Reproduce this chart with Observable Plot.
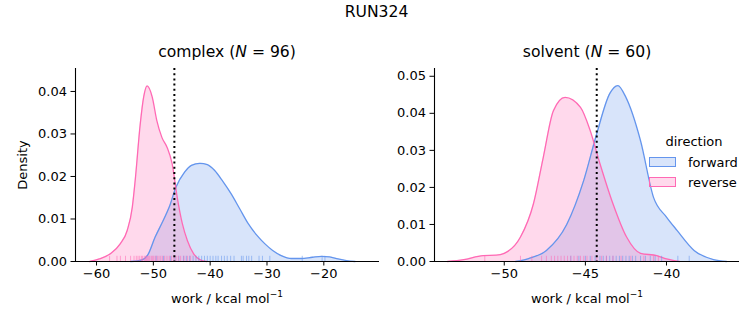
<!DOCTYPE html>
<html>
<head>
<meta charset="utf-8">
<script src="https://cdn.jsdelivr.net/npm/d3@7"></script>
<script src="https://cdn.jsdelivr.net/npm/@observablehq/plot@0.6"></script>
<style>
  html, body { margin: 0; padding: 0; background: #fff; }
  #wrap { position: relative; width: 753px; height: 325px; font-family: "DejaVu Sans", sans-serif; color: #000; overflow: hidden; }
  #wrap svg text { font-family: "DejaVu Sans", sans-serif !important; font-size: 13px !important; fill: #000; }
  .abs { position: absolute; white-space: nowrap; }
  .plot { position: absolute; top: 0; }
  .ctr { transform: translateX(-50%); }
  .sw { position: absolute; width: 25px; height: 8px; border: 1px solid; }
</style>
</head>
<body>
<div id="wrap"></div>
<script>
// ---- data ----
const directions = ["forward", "reverse"];
const colors = ["#6495ED", "#FF69B4"];
const panelTitles = ["complex", "solvent"];
const panelN = [96, 60];
const meanLines = [-46.3, -44.3];

// KDE curves (x, density)
const complexFwdX = [-54, -52, -51, -49.7, -48.5, -47.2, -46.0, -44.5, -43.3, -41.8, -40.5, -39.2, -37.8, -36.3, -34.8, -33.3, -31.8, -30.4, -29, -27.5, -25.7, -24, -22, -20.4, -19, -17.5, -16, -14.5];
const complexFwdY = [0, 0.0004, 0.0015, 0.0057, 0.009, 0.0128, 0.0175, 0.021, 0.0226, 0.0231, 0.0228, 0.0214, 0.0189, 0.0159, 0.0124, 0.0089, 0.0062, 0.0042, 0.0026, 0.0014, 0.0007, 0.0007, 0.001, 0.0012, 0.0011, 0.0006, 0.0002, 0];
const complexRevX = [-61.2, -59.5, -57.5, -55.8, -54.6, -53.7, -53.2, -52.3, -51.7, -51.1, -50.2, -49.4, -48.5, -47.6, -46.7, -45.8, -44.9, -44.0, -42.9, -41.75, -40.6];
const complexRevY = [0, 0.0006, 0.0019, 0.0042, 0.0073, 0.0128, 0.019, 0.0324, 0.0387, 0.0413, 0.0387, 0.0332, 0.0292, 0.0269, 0.023, 0.0151, 0.0089, 0.0049, 0.0018, 0.0004, 0];
const solventFwdX = [-49.3, -48.5, -47.4, -46.15, -45.1, -44.3, -43.5, -43.0, -42.5, -41.6, -40.8, -40.0, -39.35, -38.3, -37.1, -36.3];
const solventFwdY = [0, 0.0008, 0.003, 0.010, 0.0219, 0.0345, 0.0453, 0.0475, 0.0443, 0.0326, 0.0173, 0.012, 0.0084, 0.003, 0.0005, 0];
const solventRevX = [-53.5, -52.5, -51.3, -50.5, -50.0, -49.0, -48.2, -47.6, -46.97, -46.25, -45.3, -44.7, -44.1, -43.3, -42.46, -41.6, -40.6, -40.0, -39.2];
const solventRevY = [0, 0.0005, 0.0016, 0.0017, 0.0022, 0.0066, 0.0156, 0.028, 0.0407, 0.0443, 0.0416, 0.0353, 0.0264, 0.0156, 0.0066, 0.0022, 0.0016, 0.0007, 0];

// rug samples (work values)
const complexFwdRug = [-49.5, -48.2, -47.0, -46.2, -45.5, -44.7, -44.2, -43.6, -43.0, -42.5, -42.0, -41.5, -41.0, -40.5, -40.0, -39.5, -39.0, -38.6, -38.0, -37.5, -37.0, -36.4, -35.8, -34.5, -34.2, -33.6, -33.2, -32.7, -31.4, -30.8, -29.5, -23.8, -20.3, -19.8];
const complexRevRug = [-57.7, -56.4, -55.8, -54.9, -54.0, -53.4, -53.0, -52.7, -52.4, -52.1, -51.9, -51.6, -51.4, -51.2, -51.0, -50.8, -50.6, -50.3, -50.1, -49.9, -49.6, -49.3, -49.0, -48.7, -48.4, -48.0, -47.6, -47.2, -46.8, -46.4, -46.0, -45.6, -45.2, -44.6, -44.0, -43.5];
const solventFwdRug = [-45.9, -45.4, -45.0, -44.7, -44.4, -44.1, -43.9, -43.7, -43.5, -43.3, -43.1, -42.9, -42.7, -42.5, -42.3, -42.1, -41.9, -41.6, -41.3, -41.0, -40.7, -40.3, -39.3, -38.6];
const solventRevRug = [-51.2, -49.0, -48.3, -47.7, -47.4, -47.1, -46.9, -46.7, -46.5, -46.3, -46.1, -45.9, -45.7, -45.5, -45.3, -45.1, -44.9, -44.6, -44.3, -44.0, -43.7, -43.3, -42.8, -42.2, -41.4, -40.8, -40.5];

// axes
const complexXTicks = [-60, -50, -40, -30, -20];
const complexYTicks = [0, 0.01, 0.02, 0.03, 0.04];
const solventXTicks = [-50, -45, -40];
const solventYTicks = [0, 0.01, 0.02, 0.03, 0.04, 0.05];
const complexXDomain = [-63.7, -10.2];
const complexYDomain = [0, 0.0454];
const solventXDomain = [-54.3, -35.5];
const solventYDomain = [0, 0.0521];

const zip = (xs, ys) => xs.map((x, i) => ({x, y: ys[i]}));

function panel({fwd, rev, fwdRug, revRug, xDomain, yDomain, xTicks, yTicks, mean, width, marginLeft, marginRight}) {
  const rugH = yDomain[1] * 0.027;
  const curve = "monotone-x";
  return Plot.plot({
    width, height: 325,
    marginLeft, marginRight, marginTop: 68, marginBottom: 64,
    style: {fontFamily: "DejaVu Sans, sans-serif", fontSize: "13px", color: "#000", background: "transparent", overflow: "visible"},
    x: {domain: xDomain, ticks: xTicks, tickSize: 4.5, tickPadding: 3, label: null},
    y: {domain: yDomain, ticks: yTicks, tickSize: 4.5, tickPadding: 4, tickFormat: ".2f", label: null},
    marks: [
      Plot.areaY(fwd, {x: "x", y: "y", fill: colors[0], fillOpacity: 0.25, curve}),
      Plot.areaY(rev, {x: "x", y: "y", fill: colors[1], fillOpacity: 0.25, curve}),
      Plot.lineY(fwd, {x: "x", y: "y", stroke: colors[0], strokeWidth: 1.3, curve}),
      Plot.lineY(rev, {x: "x", y: "y", stroke: colors[1], strokeWidth: 1.3, curve}),
      Plot.ruleX(fwdRug, {x: d => d, y1: 0, y2: rugH, stroke: colors[0], strokeOpacity: 0.55, strokeWidth: 1}),
      Plot.ruleX(revRug, {x: d => d, y1: 0, y2: rugH, stroke: colors[1], strokeOpacity: 0.55, strokeWidth: 1}),
      Plot.ruleX([mean], {stroke: "#000", strokeWidth: 2, strokeDasharray: "2,3.2"}),
      Plot.ruleY([0], {stroke: "#000", strokeWidth: 1.1}),
      Plot.ruleX([xDomain[0]], {stroke: "#000", strokeWidth: 1.1})
    ]
  });
}

const wrap = document.getElementById("wrap");

const p1 = panel({
  fwd: zip(complexFwdX, complexFwdY), rev: zip(complexRevX, complexRevY),
  fwdRug: complexFwdRug, revRug: complexRevRug,
  xDomain: complexXDomain, yDomain: complexYDomain, xTicks: complexXTicks, yTicks: complexYTicks,
  mean: meanLines[0], width: 385, marginLeft: 75, marginRight: 6
});
p1.classList.add("plot"); p1.style.left = "0px";
wrap.appendChild(p1);

const p2 = panel({
  fwd: zip(solventFwdX, solventFwdY), rev: zip(solventRevX, solventRevY),
  fwdRug: solventFwdRug, revRug: solventRevRug,
  xDomain: solventXDomain, yDomain: solventYDomain, xTicks: solventXTicks, yTicks: solventYTicks,
  mean: meanLines[1], width: 373, marginLeft: 54, marginRight: 14
});
p2.classList.add("plot"); p2.style.left = "380px";
wrap.appendChild(p2);

function addText(html, x, y, size, extra) {
  const d = document.createElement("div");
  d.className = "abs" + (extra || "");
  d.style.left = x + "px"; d.style.top = y + "px"; d.style.fontSize = size + "px"; d.style.lineHeight = "1";
  d.innerHTML = html;
  wrap.appendChild(d);
  return d;
}

// titles
addText("RUN324", 376.5, 5, 15.6, " ctr");
addText(`${panelTitles[0]} (<i>N</i> = ${panelN[0]})`, 227, 45, 15.6, " ctr");
addText(`${panelTitles[1]} (<i>N</i> = ${panelN[1]})`, 587, 45, 15.6, " ctr");
// axis labels
addText("work / kcal mol<sup style='font-size:9px;vertical-align:6px;line-height:0'>&minus;1</sup>", 227, 292, 13, " ctr");
addText("work / kcal mol<sup style='font-size:9px;vertical-align:6px;line-height:0'>&minus;1</sup>", 587, 292, 13, " ctr");
const yl = addText("Density", 22, 165, 13);
yl.style.transform = "translate(-50%,-50%) rotate(-90deg)";

// legend
addText("direction", 694, 135, 13, " ctr");
directions.forEach((name, i) => {
  const sw = document.createElement("div");
  sw.className = "sw";
  sw.style.left = "649px"; sw.style.top = (157 + i * 20) + "px";
  sw.style.borderColor = colors[i];
  sw.style.background = d3.color(colors[i]).copy({opacity: 0.25}).formatRgb();
  wrap.appendChild(sw);
  addText(name, 688, 156 + i * 20, 13);
});
</script>
</body>
</html>
